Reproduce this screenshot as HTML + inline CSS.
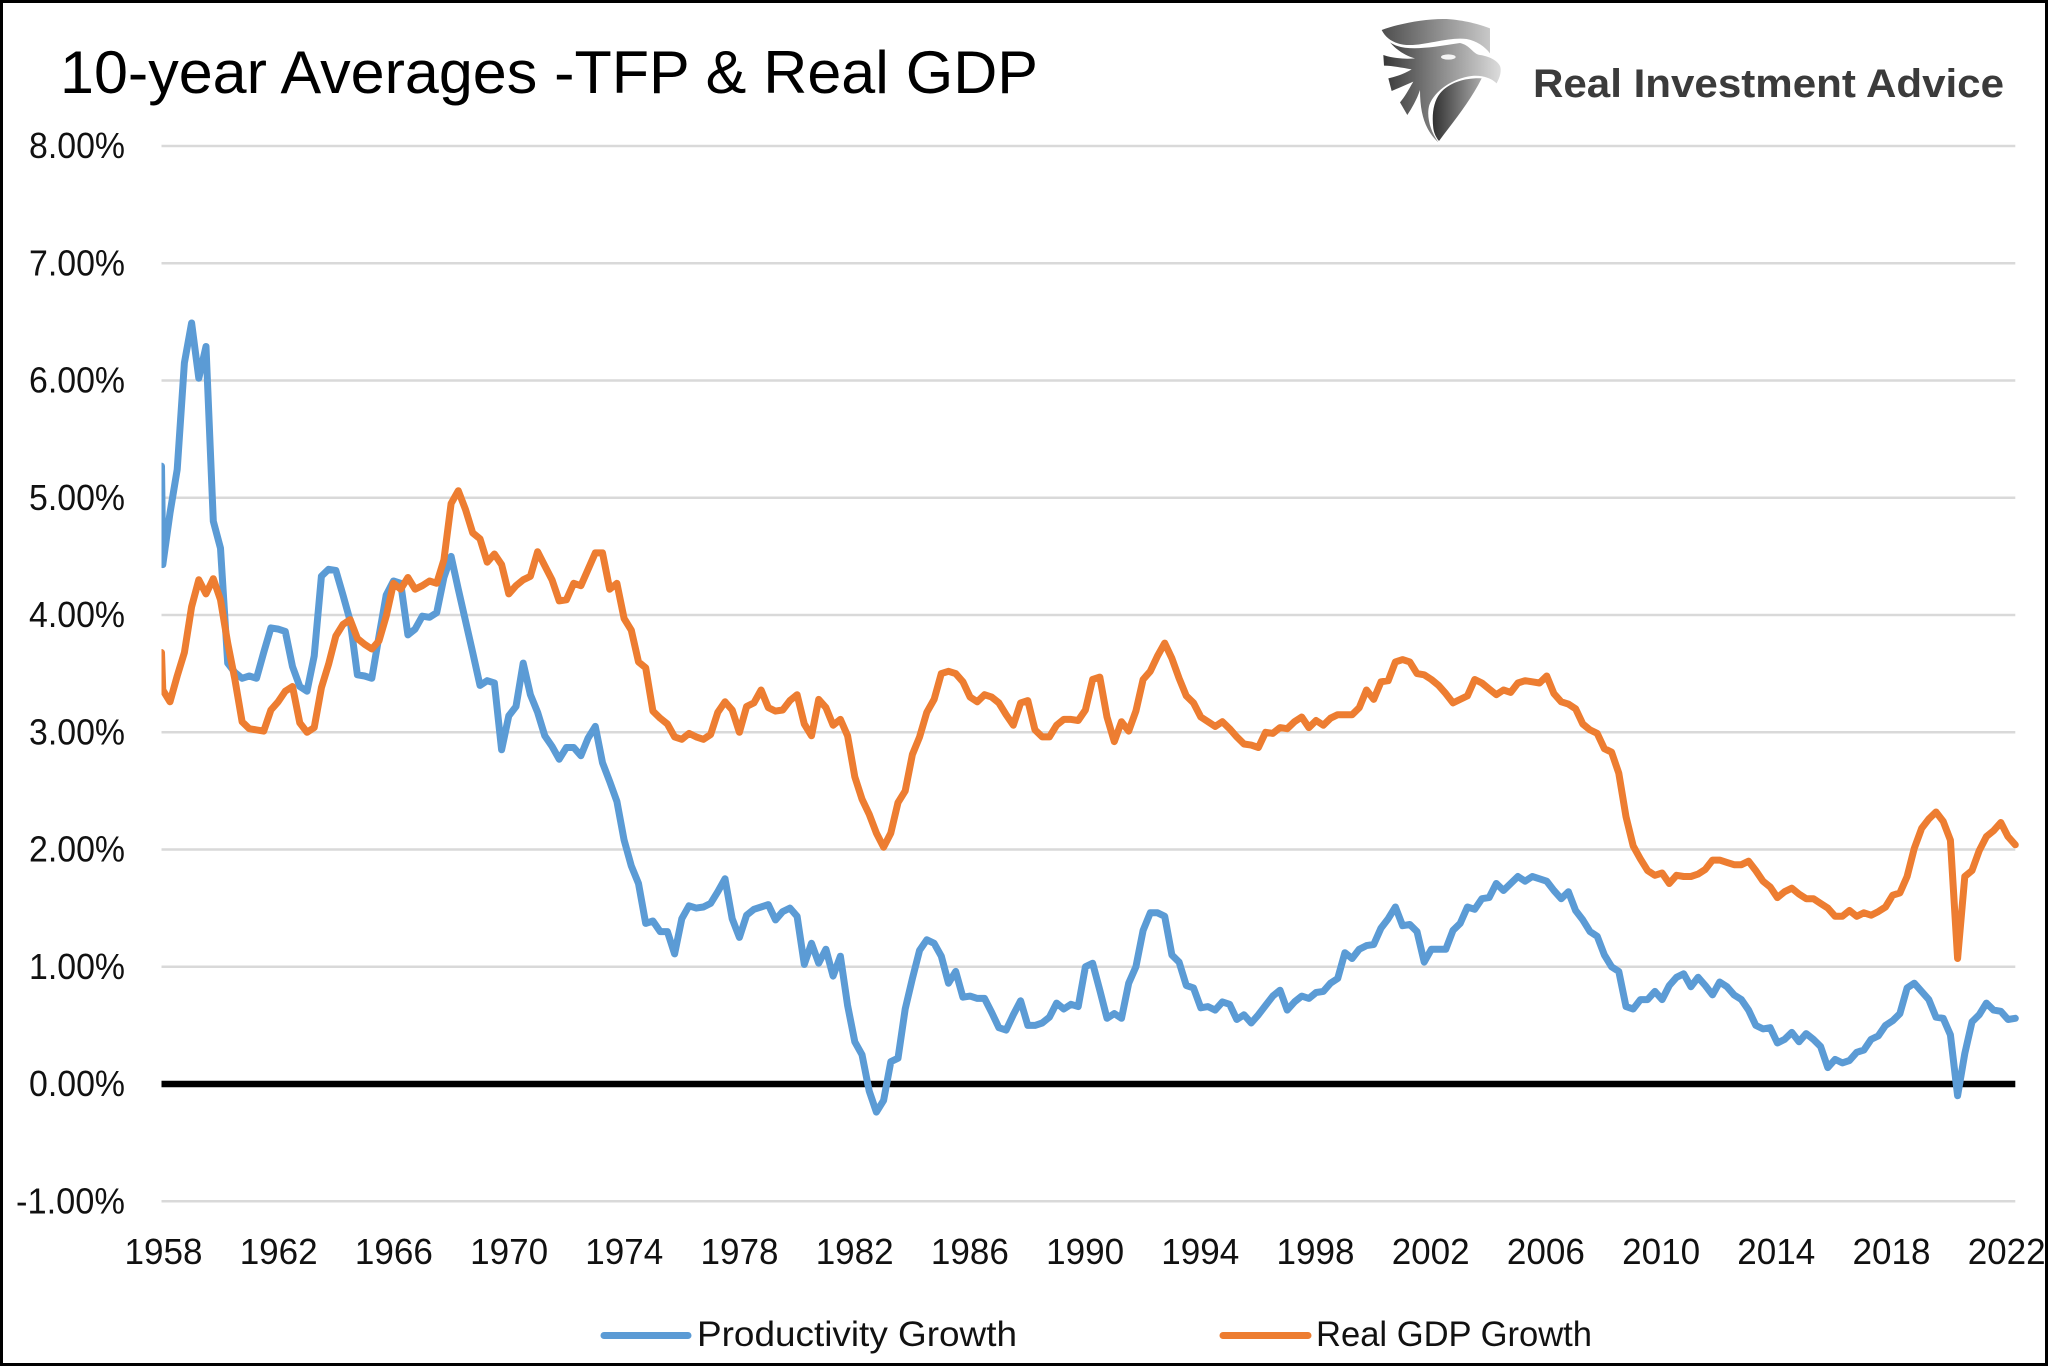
<!DOCTYPE html>
<html lang="en">
<head>
<meta charset="utf-8">
<title>10-year Averages - TFP &amp; Real GDP</title>
<style>
html,body{margin:0;padding:0;background:#fff;}
body{width:2048px;height:1366px;overflow:hidden;}
svg{display:block;}
text{font-family:"Liberation Sans",sans-serif;fill:#111;}
</style>
</head>
<body>
<svg id="chart" xmlns="http://www.w3.org/2000/svg" width="2048" height="1366" viewBox="0 0 2048 1366">
  <defs>
    <clipPath id="plot-clip"><rect x="161.5" y="100" width="1870" height="1160"/></clipPath>
    <linearGradient id="logo-crest" x1="0" y1="0" x2="1" y2="0"><stop offset="0" stop-color="#4e4e4e"/><stop offset="1" stop-color="#c8c8c8"/></linearGradient>
    <linearGradient id="logo-body" x1="0" y1="0" x2="1" y2="0"><stop offset="0" stop-color="#383838"/><stop offset="0.5" stop-color="#8c8c8c"/><stop offset="1" stop-color="#dcdcdc"/></linearGradient>
    <linearGradient id="logo-shield" x1="0" y1="0" x2="1" y2="0"><stop offset="0" stop-color="#303030"/><stop offset="1" stop-color="#ababab"/></linearGradient>
  </defs>
  <rect x="0" y="0" width="2048" height="1366" fill="#fff"/>
  <g id="grid"></g>
  <g id="series" clip-path="url(#plot-clip)"></g>
  <g id="y-axis"></g>
  <g id="x-axis"></g>

  <text x="60" y="93" font-size="60" textLength="978" lengthAdjust="spacingAndGlyphs" style="fill:#000">10-year Averages -TFP &amp; Real GDP</text>

  <g>
    <g transform="translate(1370,15) scale(0.33333)">
      <path fill="url(#logo-crest)" d="M35,45 C90,25 170,10 230,12 C280,15 330,28 360,40 L360,115 C345,95 320,78 290,72 C240,65 170,90 120,90 C80,90 50,75 35,45 Z"/>
      <path fill="url(#logo-body)" d="M60,82 C100,110 170,100 270,84 C300,90 310,118 330,120 C362,124 392,142 392,162 C393,180 385,195 380,205 C362,188 335,180 305,183 C250,190 195,225 178,270 C168,305 182,350 205,382 C170,350 150,305 150,225 C140,255 125,280 112,300 L90,262 C105,245 115,225 130,200 L65,228 L55,190 C80,185 105,175 125,163 C95,158 65,152 42,152 L40,120 C70,130 105,133 135,130 C105,122 80,105 60,82 Z"/>
      <path fill="url(#logo-shield)" d="M335,190 C290,188 240,200 210,235 C190,260 185,300 190,340 C192,355 200,370 207,378 C250,320 300,260 335,190 Z"/>
      <ellipse cx="235" cy="126" rx="22" ry="8" fill="#f4f4f4"/>
    </g>
    <text x="1533" y="97" font-size="40" font-weight="700" textLength="471" lengthAdjust="spacingAndGlyphs" style="fill:#3b3b3b">Real Investment Advice</text>
  </g>

  <g>
    <g>
      <line x1="604" y1="1335.5" x2="688" y2="1335.5" stroke="#5B9BD5" stroke-width="7" stroke-linecap="round"/>
      <text x="697" y="1346" font-size="35" textLength="320" lengthAdjust="spacingAndGlyphs">Productivity Growth</text>
    </g>
    <g>
      <line x1="1223" y1="1335.5" x2="1308" y2="1335.5" stroke="#ED7D31" stroke-width="7" stroke-linecap="round"/>
      <text x="1316" y="1346" font-size="35" textLength="276" lengthAdjust="spacingAndGlyphs">Real GDP Growth</text>
    </g>
  </g>

  <rect x="1.5" y="1.5" width="2045" height="1363" fill="none" stroke="#000" stroke-width="3"/>
</svg>

<script>
const yTicks = [8, 7, 6, 5, 4, 3, 2, 1, 0, -1];
const yearLabels = [1958, 1962, 1966, 1970, 1974, 1978, 1982, 1986, 1990, 1994, 1998, 2002, 2006, 2010, 2014, 2018, 2022];
const productivityGrowth = [5.27,
4.43,4.87,5.24,6.15,6.49,6.02,6.29,4.80,4.57,3.59,
3.51,3.46,3.48,3.46,3.68,3.89,3.88,3.86,3.56,3.39,
3.35,3.65,4.33,4.39,4.38,4.17,3.95,3.49,3.48,3.46,
3.82,4.17,4.29,4.27,3.83,3.88,3.99,3.98,4.02,4.32,
4.50,4.22,3.95,3.68,3.40,3.44,3.42,2.85,3.14,3.22,
3.59,3.32,3.17,2.97,2.88,2.77,2.87,2.87,2.80,2.95,
3.05,2.74,2.58,2.41,2.08,1.86,1.71,1.37,1.39,1.30,
1.30,1.11,1.41,1.52,1.50,1.51,1.54,1.64,1.75,1.41,
1.25,1.44,1.49,1.51,1.53,1.40,1.47,1.50,1.43,1.02,
1.20,1.03,1.15,0.92,1.09,0.67,0.36,0.25,-0.06,-0.24,
-0.14,0.19,0.22,0.64,0.90,1.14,1.23,1.20,1.09,0.86,
0.96,0.74,0.75,0.73,0.73,0.61,0.48,0.46,0.59,0.71,
0.50,0.50,0.52,0.57,0.69,0.64,0.68,0.66,1.00,1.03,
0.80,0.56,0.60,0.56,0.86,1.00,1.31,1.46,1.46,1.43,
1.10,1.04,0.84,0.82,0.65,0.66,0.63,0.70,0.68,0.55,
0.59,0.52,0.59,0.67,0.75,0.80,0.63,0.70,0.75,0.73,
0.78,0.79,0.86,0.90,1.12,1.07,1.15,1.18,1.19,1.33,
1.41,1.51,1.35,1.36,1.30,1.04,1.15,1.15,1.15,1.31,
1.37,1.51,1.49,1.58,1.59,1.71,1.65,1.71,1.77,1.73,
1.77,1.75,1.73,1.65,1.58,1.64,1.48,1.40,1.30,1.26,
1.10,1.00,0.96,0.66,0.64,0.72,0.72,0.79,0.72,0.84,
0.91,0.94,0.83,0.91,0.84,0.76,0.87,0.83,0.76,0.72,
0.63,0.50,0.47,0.48,0.35,0.38,0.44,0.36,0.43,0.38,
0.32,0.14,0.21,0.18,0.20,0.27,0.29,0.38,0.41,0.50,
0.54,0.60,0.82,0.86,0.79,0.72,0.57,0.56,0.42,-0.10,
0.26,0.53,0.59,0.69,0.63,0.62,0.55,0.56];
const realGdpGrowth = [3.68,
3.36,3.26,3.48,3.68,4.07,4.30,4.18,4.31,4.13,3.76,
3.45,3.09,3.03,3.02,3.01,3.19,3.26,3.35,3.39,3.08,
3.00,3.04,3.38,3.58,3.82,3.92,3.96,3.80,3.75,3.71,
3.78,3.99,4.27,4.22,4.32,4.22,4.25,4.29,4.27,4.47,
4.95,5.06,4.90,4.70,4.65,4.45,4.52,4.43,4.18,4.25,
4.30,4.33,4.54,4.42,4.30,4.12,4.13,4.27,4.25,4.39,
4.53,4.53,4.22,4.27,3.97,3.87,3.60,3.55,3.18,3.12,
3.07,2.96,2.94,2.99,2.96,2.94,2.98,3.17,3.26,3.19,
3.00,3.22,3.25,3.36,3.21,3.18,3.19,3.27,3.32,3.07,
2.97,3.28,3.21,3.06,3.11,2.97,2.62,2.43,2.30,2.14,
2.02,2.14,2.40,2.50,2.81,2.96,3.17,3.28,3.50,3.52,
3.50,3.43,3.30,3.26,3.32,3.30,3.25,3.15,3.06,3.25,
3.27,3.02,2.96,2.96,3.06,3.11,3.11,3.10,3.19,3.45,
3.47,3.13,2.92,3.09,3.01,3.18,3.45,3.52,3.65,3.76,
3.63,3.46,3.31,3.25,3.13,3.09,3.05,3.09,3.03,2.96,
2.90,2.89,2.87,3.00,2.99,3.04,3.03,3.09,3.13,3.04,
3.10,3.06,3.12,3.15,3.15,3.15,3.21,3.36,3.28,3.43,
3.44,3.60,3.62,3.60,3.50,3.49,3.45,3.40,3.33,3.25,
3.28,3.31,3.45,3.42,3.37,3.32,3.36,3.34,3.42,3.44,
3.43,3.42,3.48,3.33,3.26,3.24,3.20,3.07,3.02,2.99,
2.86,2.83,2.65,2.28,2.03,1.92,1.82,1.78,1.80,1.71,
1.78,1.77,1.77,1.79,1.83,1.91,1.91,1.89,1.87,1.87,
1.90,1.82,1.73,1.68,1.59,1.64,1.67,1.62,1.58,1.58,
1.54,1.50,1.43,1.43,1.48,1.43,1.46,1.44,1.47,1.51,
1.61,1.63,1.77,2.01,2.18,2.26,2.32,2.24,2.08,1.07,
1.77,1.82,1.99,2.11,2.16,2.23,2.11,2.04];

const SVG_NS = 'http://www.w3.org/2000/svg';
const AXIS_LEFT = 161.5, AXIS_RIGHT = 2015.3;
const ZERO_Y = 1084, PX_PER_PCT = 117.25;
const QUARTER_PX = 7.208, FIRST_GAP = 1.3;

function yScale(v) { return ZERO_Y - v * PX_PER_PCT; }
function xScale(i) { return i === 0 ? AXIS_LEFT : AXIS_LEFT + FIRST_GAP + (i - 1) * QUARTER_PX; }
function yearScale(year) { return 163.5 + (year - 1958) * 28.8; }
function make(tag, attrs) {
  const el = document.createElementNS(SVG_NS, tag);
  Object.keys(attrs).forEach(function (k) { el.setAttribute(k, attrs[k]); });
  return el;
}

const gridGroup = document.getElementById('grid');
const yAxisGroup = document.getElementById('y-axis');
yTicks.forEach(function (t) {
  const isZero = t === 0;
  if (!isZero) {
    const line = make('line', {
      x1: AXIS_LEFT, x2: AXIS_RIGHT, y1: yScale(t), y2: yScale(t),
      stroke: '#D9D9D9', 'stroke-width': 2.6
    });
    
    
    gridGroup.appendChild(line);
  }
  const label = make('text', {
    x: 125, y: yScale(t) + 12, 'font-size': 36, 'text-anchor': 'end',
    textLength: t < 0 ? 109 : 96, lengthAdjust: 'spacingAndGlyphs'
  });
  label.textContent = t.toFixed(2) + '%';
  
  
  yAxisGroup.appendChild(label);
});

const xAxisGroup = document.getElementById('x-axis');
yearLabels.forEach(function (year) {
  const label = make('text', {
    x: yearScale(year), y: 1264, 'font-size': 36, 'text-anchor': 'middle',
    textLength: 78, lengthAdjust: 'spacingAndGlyphs'
  });
  label.textContent = String(year);
  
  
  xAxisGroup.appendChild(label);
});

function linePoints(values) {
  return values.map(function (v, i) { return xScale(i).toFixed(1) + ',' + yScale(v).toFixed(1); }).join(' ');
}
const seriesGroup = document.getElementById('series');

const zeroLine = make('line', {
  x1: AXIS_LEFT, x2: AXIS_RIGHT, y1: yScale(0), y2: yScale(0), stroke: '#000', 'stroke-width': 6.4
});


seriesGroup.appendChild(zeroLine);

const productivityLine = make('polyline', {
  points: linePoints(productivityGrowth), fill: 'none', stroke: '#5B9BD5',
  'stroke-width': 7, 'stroke-linejoin': 'round', 'stroke-linecap': 'round'
});


seriesGroup.appendChild(productivityLine);

const gdpLine = make('polyline', {
  points: linePoints(realGdpGrowth), fill: 'none', stroke: '#ED7D31',
  'stroke-width': 7, 'stroke-linejoin': 'round', 'stroke-linecap': 'round'
});


seriesGroup.appendChild(gdpLine);
</script>
</body>
</html>
